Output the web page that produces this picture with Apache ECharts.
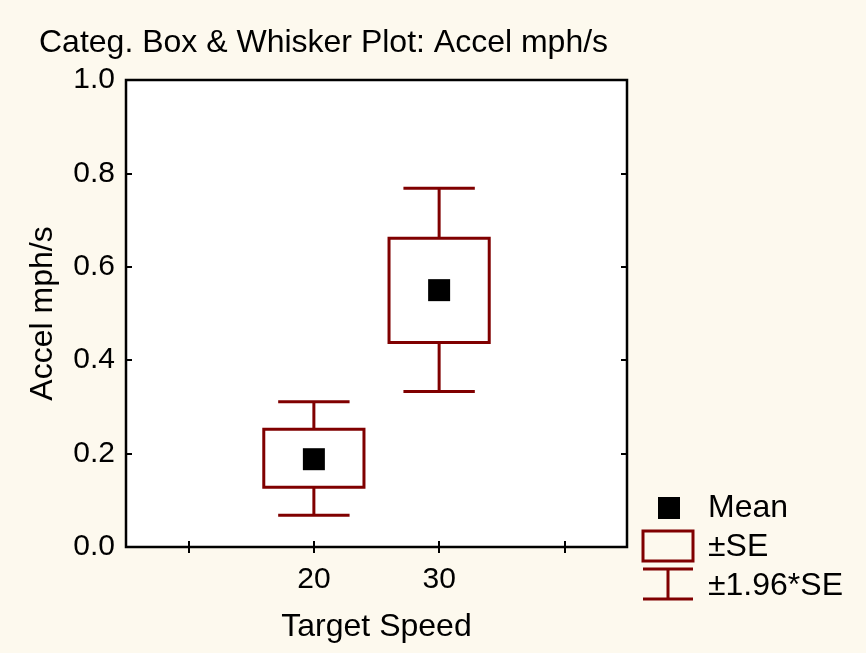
<!DOCTYPE html>
<html>
<head>
<meta charset="utf-8">
<script src="https://cdn.jsdelivr.net/npm/echarts@6/dist/echarts.min.js"></script>
<style>
html,body{margin:0;padding:0;background:#FDF9EE;}
#chart{width:866px;height:653px;}
</style>
</head>
<body>
<div id="chart"></div>
<script>
// ---- data ----
const speeds = ['20', '30'];
const means  = [0.188, 0.550];
const seLow  = [0.128, 0.438];
const seHigh = [0.252, 0.661];
const ciLow  = [0.068, 0.333];
const ciHigh = [0.311, 0.768];

const xCategories = [''].concat(speeds, ['']);
const FONT = '"Liberation Sans", Arial, sans-serif';
const RED = '#800000';

const boxData = speeds.map((s, i) => [i + 1, seLow[i], seHigh[i], ciLow[i], ciHigh[i]]);
const meanData = speeds.map((s, i) => [i + 1, means[i]]);

const chart = echarts.init(document.getElementById('chart'));

function renderBox(params, api) {
  const x = api.value(0);
  const band = api.size([1, 0])[0];
  const boxW = band * 0.8;
  const capW = band * 0.57;
  const pLo = api.coord([x, api.value(1)]);
  const pHi = api.coord([x, api.value(2)]);
  const pCiLo = api.coord([x, api.value(3)]);
  const pCiHi = api.coord([x, api.value(4)]);
  const cx = pLo[0];
  const st = { stroke: RED, lineWidth: 3, fill: null };
  return {
    type: 'group',
    children: [
      { type: 'line', shape: { x1: cx, y1: pCiHi[1], x2: cx, y2: pHi[1] }, style: st },
      { type: 'line', shape: { x1: cx, y1: pLo[1], x2: cx, y2: pCiLo[1] }, style: st },
      { type: 'line', shape: { x1: cx - capW / 2, y1: pCiHi[1], x2: cx + capW / 2, y2: pCiHi[1] }, style: st },
      { type: 'line', shape: { x1: cx - capW / 2, y1: pCiLo[1], x2: cx + capW / 2, y2: pCiLo[1] }, style: st },
      { type: 'rect', shape: { x: cx - boxW / 2, y: pHi[1], width: boxW, height: pLo[1] - pHi[1] }, style: { stroke: RED, lineWidth: 3, fill: '#ffffff' } }
    ]
  };
}

const tickStyle = { show: true, inside: true, length: 6, lineStyle: { color: '#000', width: 2 } };

chart.setOption({
  backgroundColor: '#FDF9EE',
  animation: false,
  title: {
    text: 'Categ. Box & Whisker Plot: Accel mph/s',
    left: 39, top: 27, padding: 0,
    textStyle: { fontFamily: FONT, fontSize: 32, fontWeight: 'normal', color: '#000' }
  },
  grid: {
    left: 126, right: 239, top: 80, bottom: 106,
    show: true, backgroundColor: '#ffffff', borderColor: '#000', borderWidth: 2.5
  },
  xAxis: [
    {
      type: 'category', data: xCategories, position: 'bottom',
      axisLine: { show: false },
      axisTick: Object.assign({ alignWithLabel: true, interval: 0 }, tickStyle),
      axisLabel: { fontFamily: FONT, fontSize: 30, color: '#000', margin: 18, interval: 0 },
      name: 'Target Speed', nameLocation: 'middle', nameGap: 64,
      nameTextStyle: { fontFamily: FONT, fontSize: 32, color: '#000' },
      splitLine: { show: false }
    },
    {
      type: 'category', data: xCategories, position: 'top',
      axisLine: { show: false },
      axisTick: Object.assign({ alignWithLabel: true, interval: 0 }, tickStyle),
      axisLabel: { show: false }, splitLine: { show: false }
    }
  ],
  yAxis: [
    {
      type: 'value', min: 0, max: 1, interval: 0.2, position: 'left',
      axisLine: { show: false }, axisTick: tickStyle,
      axisLabel: { fontFamily: FONT, fontSize: 30, color: '#000', margin: 11,
                   formatter: v => v.toFixed(1) },
      name: 'Accel mph/s', nameLocation: 'middle', nameGap: 67,
      nameTextStyle: { fontFamily: FONT, fontSize: 32, color: '#000' },
      splitLine: { show: false }
    },
    {
      type: 'value', min: 0, max: 1, interval: 0.2, position: 'right',
      axisLine: { show: false }, axisTick: tickStyle,
      axisLabel: { show: false }, splitLine: { show: false }
    }
  ],
  series: [
    {
      type: 'custom', name: '±SE', renderItem: renderBox,
      encode: { x: 0, y: [1, 2, 3, 4] }, data: boxData, z: 2
    },
    {
      type: 'scatter', name: 'Mean', data: meanData, symbol: 'rect', symbolSize: 22,
      itemStyle: { color: '#000', opacity: 1 }, z: 3
    }
  ],
  graphic: [
    { type: 'rect', shape: { x: 658, y: 497, width: 22, height: 22 }, style: { fill: '#000' } },
    { type: 'text', x: 708, y: 508, style: { text: 'Mean', font: '32px ' + FONT, fill: '#000', verticalAlign: 'middle' } },
    { type: 'rect', shape: { x: 643, y: 531, width: 50, height: 30 }, style: { stroke: RED, lineWidth: 3, fill: null } },
    { type: 'text', x: 708, y: 547, style: { text: '±SE', font: '32px ' + FONT, fill: '#000', verticalAlign: 'middle' } },
    { type: 'line', shape: { x1: 643, y1: 569, x2: 693, y2: 569 }, style: { stroke: RED, lineWidth: 3 } },
    { type: 'line', shape: { x1: 643, y1: 599, x2: 693, y2: 599 }, style: { stroke: RED, lineWidth: 3 } },
    { type: 'line', shape: { x1: 668, y1: 569, x2: 668, y2: 599 }, style: { stroke: RED, lineWidth: 3 } },
    { type: 'text', x: 708, y: 586, style: { text: '±1.96*SE', font: '32px ' + FONT, fill: '#000', verticalAlign: 'middle' } }
  ]
});
</script>
</body>
</html>
